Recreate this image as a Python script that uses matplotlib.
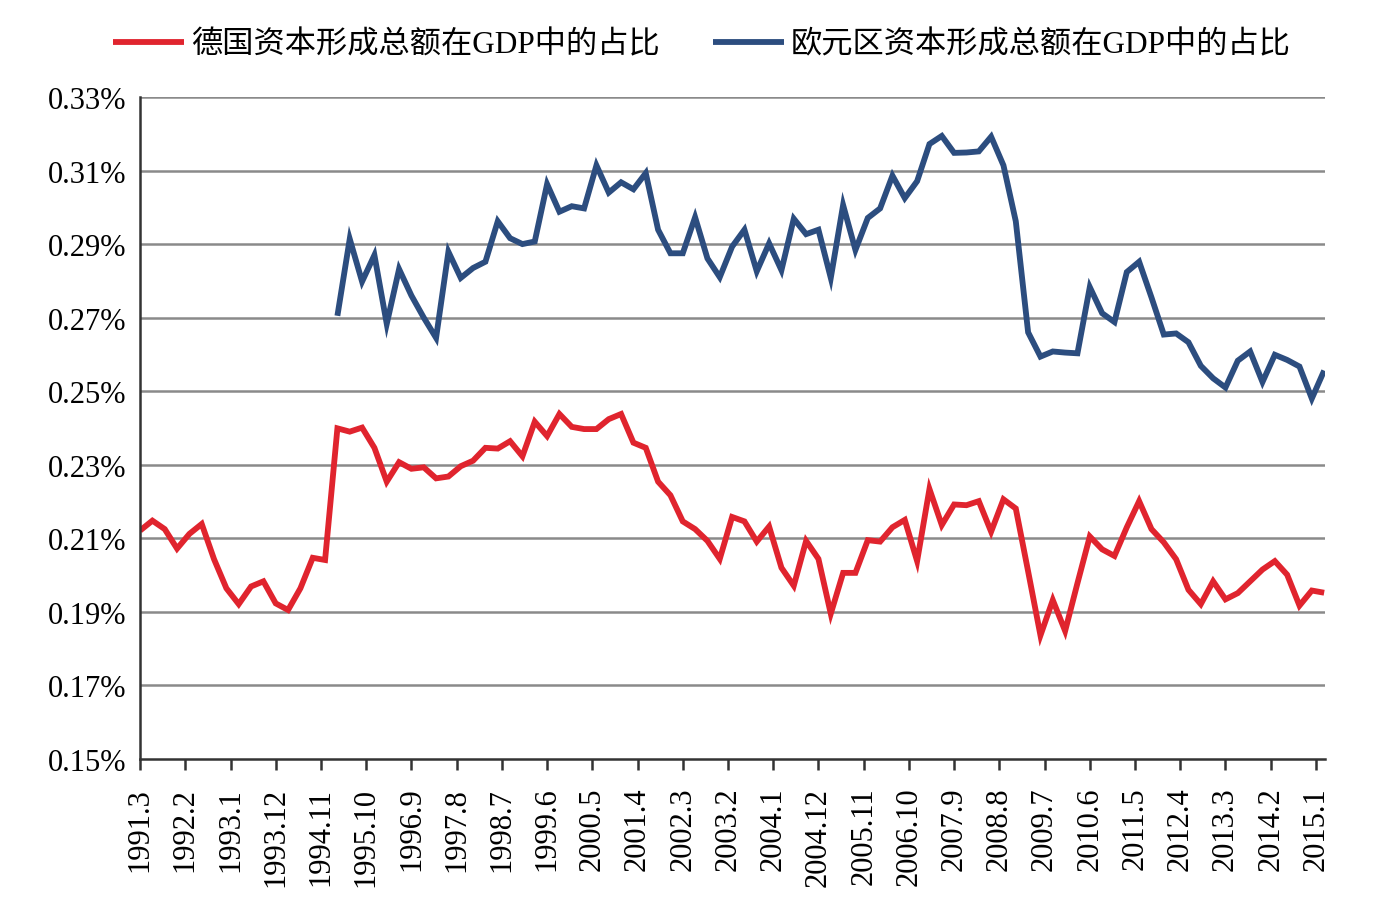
import matplotlib.pyplot as plt
import numpy as np

# quarterly observations, first one at 1991.3 (month offset 3 per point)
germany = [0.2121, 0.2148, 0.2125, 0.2072, 0.2112, 0.2139, 0.2043, 0.1964,
           0.1921, 0.1969, 0.1983, 0.1923, 0.1905, 0.1964, 0.2047, 0.2041,
           0.2399, 0.2390, 0.2401, 0.2346, 0.2254, 0.2307, 0.2289, 0.2293,
           0.2263, 0.2268, 0.2296, 0.2311, 0.2346, 0.2344, 0.2364, 0.2323,
           0.2417, 0.2378, 0.2438, 0.2403, 0.2397, 0.2397, 0.2424, 0.2438,
           0.2360, 0.2346, 0.2254, 0.2217, 0.2146, 0.2125, 0.2093, 0.2044,
           0.2158, 0.2146, 0.2091, 0.2132, 0.2020, 0.1971, 0.2093, 0.2044,
           0.1895, 0.2006, 0.2006, 0.2095, 0.2091, 0.2130, 0.2150, 0.2038,
           0.2234, 0.2136, 0.2192, 0.2190, 0.2201, 0.2118, 0.2206, 0.2181,
           0.2010, 0.1836, 0.1932, 0.1848, 0.1978, 0.2105, 0.2070, 0.2052,
           0.2130, 0.2201, 0.2125, 0.2089, 0.2043, 0.1960, 0.1921, 0.1983,
           0.1934, 0.1951, 0.1983, 0.2015, 0.2038, 0.2001, 0.1917, 0.1958,
           0.1952]

# euro area series starts 16 quarters later
euro_start = 16
euro = [0.2705, 0.2914, 0.2798, 0.2870, 0.2683, 0.2832, 0.2760, 0.2700,
        0.2645, 0.2879, 0.2808, 0.2835, 0.2852, 0.2962, 0.2916, 0.2900,
        0.2907, 0.3063, 0.2988, 0.3003, 0.2997, 0.3114, 0.3040, 0.3068,
        0.3049, 0.3093, 0.2939, 0.2875, 0.2875, 0.2973, 0.2861, 0.2810,
        0.2893, 0.2939, 0.2826, 0.2902, 0.2829, 0.2969, 0.2927, 0.2939,
        0.2808, 0.3006, 0.2884, 0.2971, 0.2997, 0.3086, 0.3025, 0.3071,
        0.3172, 0.3194, 0.3148, 0.3149, 0.3152, 0.3192, 0.3114, 0.2962,
        0.2660, 0.2594, 0.2608, 0.2605, 0.2603, 0.2783, 0.2712, 0.2688,
        0.2824, 0.2852, 0.2755, 0.2654, 0.2657, 0.2633, 0.2569, 0.2535,
        0.2510, 0.2583, 0.2608, 0.2525, 0.2599, 0.2585, 0.2567, 0.2480,
        0.2556]

tick_labels = ['1991.3', '1992.2', '1993.1', '1993.12', '1994.11', '1995.10',
               '1996.9', '1997.8', '1998.7', '1999.6', '2000.5', '2001.4',
               '2002.3', '2003.2', '2004.1', '2004.12', '2005.11', '2006.10',
               '2007.9', '2008.8', '2009.7', '2010.6', '2011.5', '2012.4',
               '2013.3', '2014.2', '2015.1']
y_ticks = [0.15, 0.17, 0.19, 0.21, 0.23, 0.25, 0.27, 0.29, 0.31, 0.33]

label_de = '德国资本形成总额在GDP中的占比'
label_eu = '欧元区资本形成总额在GDP中的占比'

serif = 'Liberation Serif'
cjk = ['Liberation Serif', 'Noto Sans CJK SC']

x_de = np.arange(len(germany)) * 3
x_eu = (np.arange(len(euro)) + euro_start) * 3

fig = plt.figure(figsize=(13.95, 9.03), dpi=100)
ax = fig.add_axes([0.1004, 0.1584, 0.8494, 0.7331])

for y in y_ticks[1:]:
    ax.axhline(y, color='#8a8a8a', lw=1.8, zorder=1)

l1, = ax.plot(x_de, germany, color='#E0242E', lw=4.2, zorder=3,
              solid_joinstyle='miter', solid_capstyle='butt')
l2, = ax.plot(x_eu, euro, color='#2C4D7F', lw=4.2, zorder=3,
              solid_joinstyle='miter', solid_capstyle='butt')

ax.set_xlim(0, 288.2)
ax.set_ylim(0.15, 0.33)
ax.set_xticks(np.arange(len(tick_labels)) * 11)
ax.set_xticklabels(tick_labels, rotation=90, fontsize=22, family=serif)
ax.set_yticks(y_ticks)
ax.set_yticklabels([f'{v:.2f}%' for v in y_ticks], fontsize=22, family=serif)

ax.tick_params(axis='x', length=8, width=1.8, color='#333333', pad=12)
ax.tick_params(axis='y', length=0, pad=10)
for s in ['top', 'right']:
    ax.spines[s].set_visible(False)
for s in ['left', 'bottom']:
    ax.spines[s].set_color('#333333')
    ax.spines[s].set_linewidth(1.8)
    ax.spines[s].set_zorder(4)

fig.legend([l1, l2], [label_de, label_eu], loc='center', ncol=2,
           bbox_to_anchor=(0.503, 0.949), frameon=False,
           prop={'family': cjk, 'size': 22.5}, handlelength=2.3,
           handletextpad=0.2, columnspacing=1.7)

plt.savefig('out.png', dpi=100)
